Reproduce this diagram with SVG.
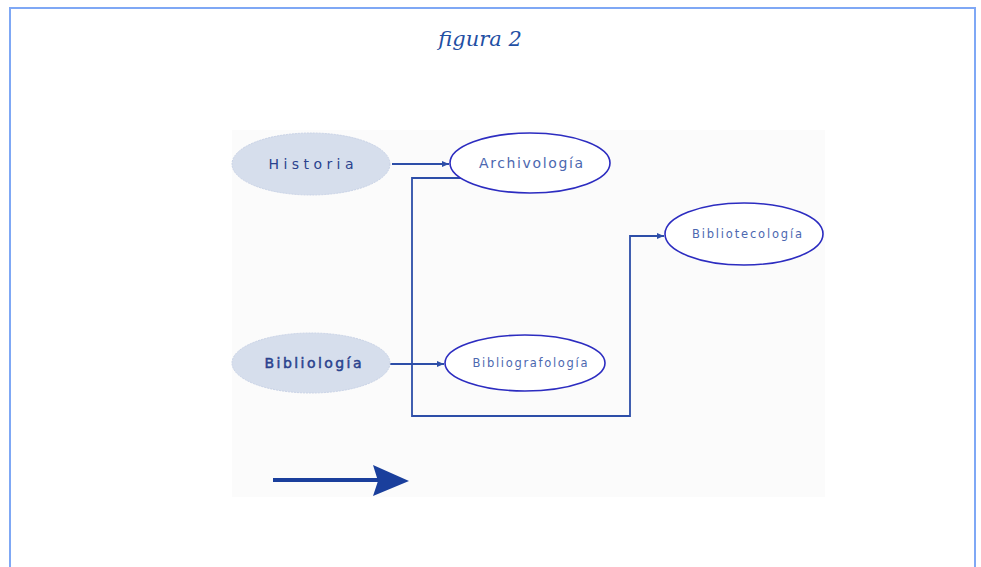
<svg xmlns="http://www.w3.org/2000/svg" width="981" height="567" viewBox="0 0 981 567">
<style>
.frame{fill:#ffffff;stroke:#7fa8f5;stroke-width:2}
.panel{fill:#fbfbfb}
.filled{fill:#d6deec;stroke:#c8d2e6;stroke-width:1;stroke-dasharray:2 1}
.outline{fill:#ffffff;stroke:#2c2cc0;stroke-width:1.6}
.lbl{font-family:"DejaVu Sans","Liberation Sans",sans-serif;text-anchor:middle}
.dark{fill:#2a428e}
.light{fill:#4c68b0}
.conn{fill:none;stroke:#2d4ea8;stroke-width:1.8}
.title{font-family:"DejaVu Serif","Liberation Serif",serif;font-style:italic;font-size:21px;fill:#1f4fa3;text-anchor:middle}
</style>
<defs>
<marker id="ah" markerWidth="8" markerHeight="6" refX="7" refY="3" orient="auto" markerUnits="userSpaceOnUse">
<path d="M0,0 L7,3 L0,6 Z" fill="#2d4ea8"/>
</marker>
</defs>
<rect class="frame" x="10" y="8" width="965" height="570"/>
<text class="title" x="480" y="46">figura 2</text>
<rect class="panel" x="232" y="130" width="593" height="367"/>
<g id="connectors">
<path class="conn" d="M392,164 L449,164" marker-end="url(#ah)"/>
<path class="conn" d="M390,364 L444,364" marker-end="url(#ah)"/>
<path class="conn" d="M462,178 L412,178 L412,416 L630,416 L630,236 L664,236" marker-end="url(#ah)"/>
</g>
<g id="historia">
<ellipse class="filled" cx="311" cy="164" rx="79" ry="31"/>
<text class="lbl dark" x="311" y="169" font-size="14" textLength="85" lengthAdjust="spacing">Historia</text>
</g>
<g id="archivologia">
<ellipse class="outline" cx="530" cy="163" rx="80" ry="30"/>
<text class="lbl light" x="531" y="168" font-size="14" textLength="104" lengthAdjust="spacing">Archivología</text>
</g>
<g id="bibliologia">
<ellipse class="filled" cx="311" cy="363" rx="79" ry="30"/>
<text class="lbl dark" x="313" y="368" font-size="14" textLength="97" lengthAdjust="spacing" stroke="#2a428e" stroke-width="0.5">Bibliología</text>
</g>
<g id="bibliografologia">
<ellipse class="outline" cx="525" cy="363" rx="80" ry="28"/>
<text class="lbl light" x="530" y="367" font-size="11.5" textLength="115" lengthAdjust="spacing">Bibliografología</text>
</g>
<g id="bibliotecologia">
<ellipse class="outline" cx="744" cy="234" rx="79" ry="31"/>
<text class="lbl light" x="747" y="238" font-size="11.5" textLength="110" lengthAdjust="spacing">Bibliotecología</text>
</g>
<g id="big-arrow">
<line x1="273" y1="480" x2="380" y2="480" stroke="#1a3f9c" stroke-width="4"/>
<path d="M373,465 L409,481 L373,496 L378,481 Z" fill="#1a3f9c"/>
</g>
</svg>
